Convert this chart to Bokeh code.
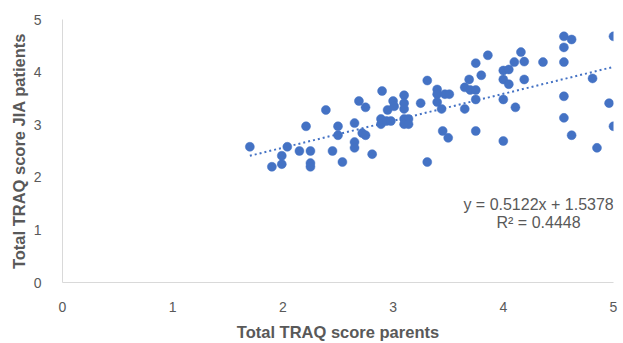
from bokeh.plotting import figure
from bokeh.models import Range1d, FixedTicker, Label, ColumnDataSource
from bokeh.embed import file_html
from bokeh.resources import INLINE

parents = [1.70, 1.90, 1.99, 1.99, 2.04, 2.15, 2.25, 2.25, 2.25, 2.21,
           2.39, 2.45, 2.54, 2.50, 2.50, 2.65, 2.65, 2.65, 2.69, 2.75,
           2.72, 2.75, 2.81, 2.90, 2.89, 2.89, 2.94, 2.98, 2.95, 3.00,
           3.01, 3.10, 3.10, 3.10, 3.10, 3.14, 3.10, 3.14, 3.25, 3.31,
           3.31, 3.40, 3.40, 3.47, 3.51, 3.40, 3.44, 3.45, 3.50, 3.65,
           3.75, 3.86, 3.80, 3.69, 3.65, 3.70, 3.75, 3.75, 3.75, 4.00,
           4.05, 4.10, 4.16, 4.19, 4.00, 4.05, 4.19, 4.00, 4.11, 4.00,
           4.36, 4.55, 4.62, 4.55, 4.55, 4.55, 4.55, 4.62, 4.81, 4.85,
           4.96, 5.00, 5.00]
patients = [2.58, 2.20, 2.25, 2.41, 2.58, 2.50, 2.50, 2.27, 2.20, 2.97,
            3.28, 2.50, 2.29, 2.97, 2.80, 3.03, 2.67, 2.56, 3.45, 3.33,
            2.84, 2.80, 2.44, 3.64, 3.11, 3.01, 3.07, 3.07, 3.28, 3.45,
            3.35, 3.56, 3.41, 3.30, 3.11, 3.11, 3.01, 3.01, 3.41, 3.84,
            2.29, 3.67, 3.58, 3.58, 3.58, 3.43, 3.30, 2.88, 2.75, 3.30,
            4.17, 4.32, 3.94, 3.86, 3.71, 3.66, 3.66, 3.48, 2.88, 4.03,
            4.05, 4.19, 4.38, 4.20, 3.86, 3.77, 3.86, 3.48, 3.33, 2.69,
            4.19, 4.68, 4.62, 4.47, 4.19, 3.54, 3.13, 2.80, 3.88, 2.56,
            3.41, 2.97, 4.68]

slope = 0.5122
intercept = 1.5378
r_squared = 0.4448
ticks = [0, 1, 2, 3, 4, 5]

BLUE = "#4472C4"
GRAY = "#595959"
FONT = "Liberation Sans"

p = figure(width=623, height=343, output_backend="svg", toolbar_location=None,
           x_range=Range1d(0, 5), y_range=Range1d(0, 5),
           min_border_left=62, min_border_right=10, min_border_top=19, min_border_bottom=59)
p.outline_line_color = None
p.xgrid.visible = False
p.ygrid.visible = False

for ax in (p.xaxis[0], p.yaxis[0]):
    ax.ticker = FixedTicker(ticks=ticks)
    ax.major_tick_line_color = None
    ax.minor_tick_line_color = None
    ax.axis_line_color = "#D9D9D9"
    ax.axis_line_width = 1
    ax.major_label_text_font = FONT
    ax.major_label_text_font_size = "14px"
    ax.major_label_text_color = GRAY
    ax.axis_label_text_font = FONT
    ax.axis_label_text_font_size = "16.5px"
    ax.axis_label_text_font_style = "bold"
    ax.axis_label_text_color = GRAY

p.xaxis.axis_label = "Total TRAQ score parents"
p.yaxis.axis_label = "Total TRAQ score JIA patients"
p.xaxis.major_label_standoff = 13
p.xaxis.axis_label_standoff = 8
p.yaxis.major_label_standoff = 15
p.yaxis.axis_label_standoff = 3

# trendline
xmin, xmax = min(parents), max(parents)
p.line([xmin, xmax], [slope * xmin + intercept, slope * xmax + intercept],
       line_color=BLUE, line_width=2, line_dash="2 3")

src = ColumnDataSource(dict(x=parents, y=patients))
p.scatter("x", "y", source=src, size=9, fill_color=BLUE, line_color=BLUE, line_width=0.5)

eq = Label(x=4.32, y=1.49, text=f"y = {slope}x + {intercept}", text_align="center",
           text_baseline="middle", text_font=FONT, text_font_size="16px", text_color=GRAY)
r2 = Label(x=4.32, y=1.15, text=f"R² = {r_squared}", text_align="center",
           text_baseline="middle", text_font=FONT, text_font_size="16px", text_color=GRAY)
p.add_layout(eq)
p.add_layout(r2)

open("out.html", "w").write(file_html(p, INLINE))
